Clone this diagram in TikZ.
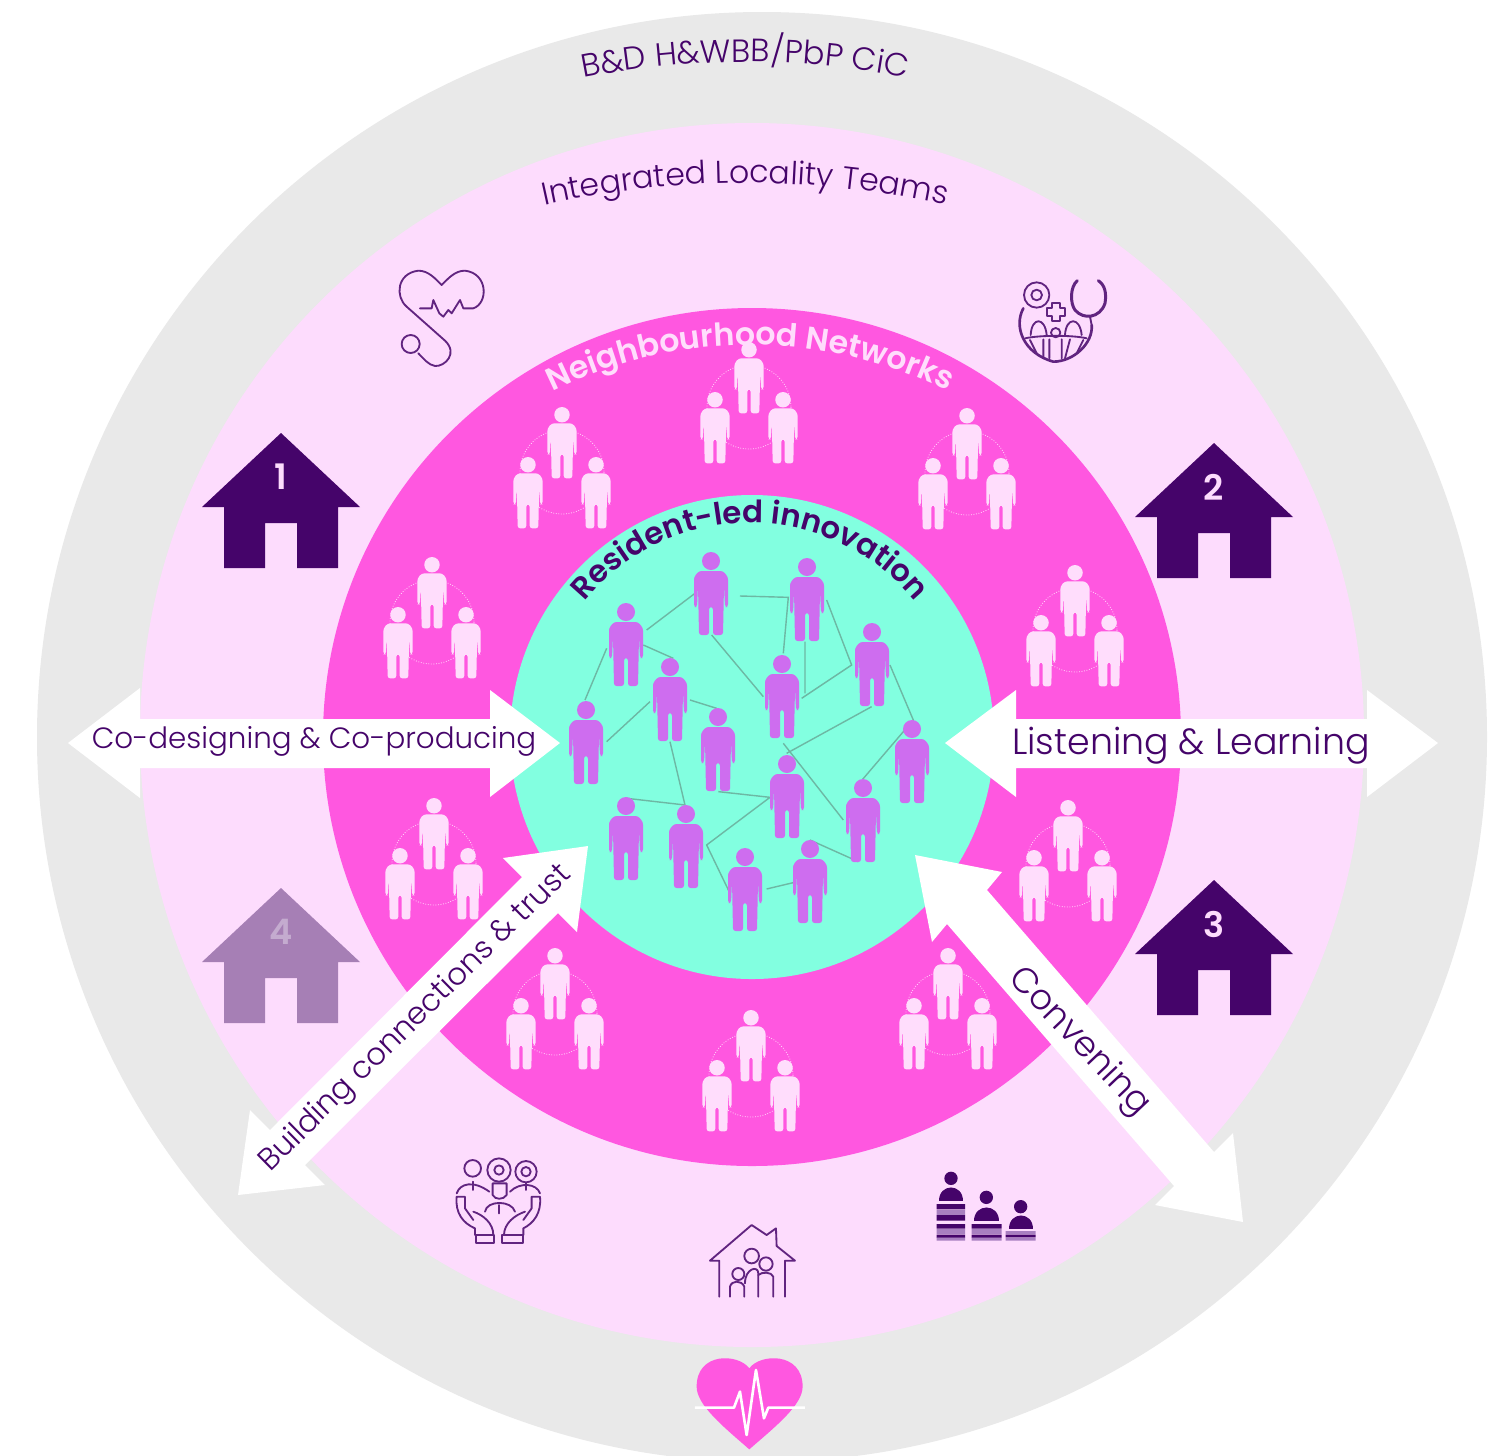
\documentclass[tikz,border=0pt]{standalone}
\usepackage{fontspec}
\setmainfont[BoldFont=Poppins SemiBold]{Poppins Light}
\usetikzlibrary{decorations.text}
\definecolor{ringgrey}{HTML}{E9E9E9}
\definecolor{ringpale}{HTML}{FDDCFD}
\definecolor{ringmag}{HTML}{FF57E0}
\definecolor{ringaqua}{HTML}{82FFE0}
\definecolor{fig}{HTML}{CE6DEF}
\definecolor{paleman}{HTML}{FFDDFC}
\definecolor{dark}{HTML}{45046A}
\definecolor{faded}{HTML}{A67FB5}
\definecolor{fadedtxt}{HTML}{C4ABCF}
\definecolor{stripe}{HTML}{A87FC0}
\definecolor{netline}{HTML}{6DB8A4}
\tikzset{
  x=0.02cm,y=-0.02cm,
  icon/.style={draw=dark!85!ringpale,line width=1.05pt,line cap=round,line join=round,fill=none},
  arrowwhite/.style={fill=white,draw=none},
  lbl/.style={text=dark,inner sep=0pt},
  zoomA/.style={shift={(380,250)},scale=0.3333},
  zoomB/.style={shift={(990,260)},scale=0.3333},
  zoomC/.style={shift={(430,1140)},scale=0.3333},
  zoomD/.style={shift={(910,1150)},scale=0.3333},
  zoomN/.style={shift={(500,490)},scale=0.3333},
}
% person: x, y of head top, scale, colour
\newcommand\pfig[4]{%
  \begin{scope}[shift={(#1,#2)},scale=#3]
    \fill[#4] (0,9) circle[radius=9];
    \fill[#4,rounded corners=1.5pt] (-12,19) -- (12,19) -- (17,25) -- (17,55) -- (14,55) -- (13,33) -- (12,83) -- (2,83) -- (2,55) -- (-2,55) -- (-2,83) -- (-12,83) -- (-13,33) -- (-14,55) -- (-17,55) -- (-17,25) -- cycle;
  \end{scope}}
% triad: x, y of the top figure's head top
\newcommand\triad[2]{%
  \begin{scope}[shift={(#1,#2)}]
    \draw[paleman,densely dotted,line width=0.45pt] (0,65) circle[radius=42];
    \pfig{0}{0}{0.86}{paleman}
    \pfig{-34}{50}{0.86}{paleman}
    \pfig{34}{50}{0.86}{paleman}
  \end{scope}}
% house: apex x, apex y, colour, digit, digit colour
\newcommand\house[5]{%
  \begin{scope}[shift={(#1,#2)}]
    \fill[#3] (0,0) -- (79,74) -- (57,74) -- (57,135) -- (16,135) -- (16,90) -- (-16,90) -- (-16,135) -- (-57,135) -- (-57,74) -- (-79,74) -- cycle;
    \node[text=#5,inner sep=0pt,font=\fontsize{20}{24}\selectfont\bfseries] (h#4) at (0,44) {#4};
  \end{scope}}
\begin{document}
\begin{tikzpicture}
\useasboundingbox (0,0) rectangle (1510,1455);
\clip (0,0) rectangle (1510,1455);
\fill[white] (0,0) rectangle (1510,1455);
\fill[ringgrey] (762,737) circle[radius=725];
\fill[ringpale] (752,735) circle[radius=612];
\fill[ringmag] (752,737) circle[radius=429];
\fill[ringaqua] (752,737) circle[radius=242];

% network lines
\begin{scope}[zoomN]
  \draw[netline,line width=0.8pt] (440,420)--(585,310) (720,318)--(865,322)--(850,490) (915,455)--(915,610) (635,435)--(790,620) (980,330)--(1055,525)--(905,625) (1170,525)--(1240,690)--(1088,868) (1115,650)--(860,790) (850,760)--(1030,990) (320,475)--(255,630) (430,465)--(520,505) (450,635)--(320,755) (570,630)--(650,655) (510,755)--(555,945)--(380,925) (655,905)--(810,922)--(620,1065)--(690,1210) (800,1197)--(880,1178) (930,1050)--(1075,1115);
\end{scope}
% residents
\foreach \px/\py in {711/552,807/558,872/623,782/655,626/603,670/658,718/708,586/701,912/720,787/755,863/779,626/797,686/805,745/848,810/840}
  {\pfig{\px}{\py}{1}{fig}}
% neighbourhood triads
\foreach \px/\py in {749/342,562/407,967/408,1075/565,432/557,434/798,1068/800,555/948,751/1010,948/948}
  {\triad{\px}{\py}}

% houses
\house{281}{433}{dark}{1}{ringpale}
\house{1214}{443}{dark}{2}{ringpale}
\house{1214}{880}{dark}{3}{ringpale}
\house{281}{888}{faded}{4}{fadedtxt}

% arrows
\fill[arrowwhite] (68,743)--(140,688)--(140,719)--(490,719)--(490,690)--(560,743)--(490,797)--(490,768)--(140,768)--(140,798)--cycle;
\fill[arrowwhite] (945,743)--(1016,690)--(1016,719)--(1367,719)--(1367,690)--(1438,743)--(1367,797)--(1367,768)--(1016,768)--(1016,797)--cycle;
\fill[arrowwhite] (588,846)--(577,932)--(558,913)--(305,1165)--(325,1185)--(238,1195)--(250,1110)--(270,1130)--(522,877)--(503,858)--cycle;
\fill[arrowwhite] (915,855)--(1002,872)--(987,890)--(1214,1152)--(1233,1133)--(1243,1222)--(1155,1205)--(1174,1186)--(947,924)--(932,942)--cycle;

% arrow labels
\node[lbl,font=\fontsize{16.7}{20}\selectfont] (codesign) at (314,741) {Co-designing \& Co-producing};
\node[lbl,font=\fontsize{20.7}{24}\selectfont] (listen) at (1191,746) {Listening \& Learning};
\node[lbl,font=\fontsize{17.5}{20}\selectfont,rotate=44.5] (build) at (416,1019) {Building connections \& trust};
\node[lbl,font=\fontsize{20}{24}\selectfont,rotate=-46.5] (conv) at (1079,1042) {Convening};

% curved labels
\path[decorate,decoration={text along path,text align=center,text={|\fontsize{18.3}{22}\selectfont\color{dark}|B{\&}D H{\&}WBB/PbP CiC}}]
  ({745+838*cos(-106)},{900+838*sin(-106)}) arc[start angle=-106,end angle=-74,radius=838];
\path[decorate,decoration={text along path,text align=center,text={|\fontsize{18}{22}\selectfont\color{dark}|Integrated Locality Teams}}]
  ({745+920*cos(-106)},{1103+920*sin(-106)}) arc[start angle=-106,end angle=-74,radius=920];
\path[decorate,decoration={text along path,text align=center,text={|\fontsize{18}{22}\selectfont\bfseries\color{paleman}|Neighbourhood Networks}}]
  ({750+445*cos(-130)},{790+445*sin(-130)}) arc[start angle=-130,end angle=-50,radius=445];
\path[decorate,decoration={text along path,text align=center,text={|\fontsize{17.5}{20}\selectfont\bfseries\color{dark}|Resident-led innovation}}]
  ({750+214*cos(-150)},{737+214*sin(-150)}) arc[start angle=-150,end angle=-30,radius=214];

% stethoscope-heart icon
\begin{scope}[zoomA]
  \draw[icon] (120,175) -- (155,175) -- (160,150) -- (178,190) -- (190,200) -- (205,180) -- (215,190) -- (240,150) -- (250,175) -- (280,175) .. controls (325,160) and (325,70) .. (255,62) .. controls (225,62) and (205,85) .. (185,105) .. controls (165,85) and (145,62) .. (115,62) .. controls (50,70) and (45,140) .. (80,170) -- (195,272) .. controls (235,310) and (195,350) .. (165,348) .. controls (145,345) and (130,325) .. (115,310);
  \draw[icon] (92,282) circle[radius=27];
\end{scope}

% medical team icon
\begin{scope}[zoomB]
  \draw[icon] (140,105) circle[radius=38] (140,105) circle[radius=16];
  \draw[icon] (185,128) -- (210,128) -- (210,143) -- (225,143) -- (225,168) -- (210,168) -- (210,183) -- (185,183) -- (185,168) -- (170,168) -- (170,143) -- (185,143) -- cycle;
  \draw[icon,line width=1.7pt] (262,62) .. controls (240,80) and (240,130) .. (255,150) .. controls (280,180) and (330,175) .. (345,130) .. controls (350,100) and (345,75) .. (325,62);
  \draw[icon] (300,170) -- (305,195);
  \draw[icon,line width=1.5pt] (100,145) .. controls (70,200) and (100,280) .. (190,305) .. controls (250,305) and (310,250) .. (305,195);
  \draw[icon] (122,225) .. controls (125,170) and (165,170) .. (170,225);
  \draw[icon] (225,225) .. controls (228,170) and (270,170) .. (275,225);
  \draw[icon] (197,218) circle[radius=14];
  \draw[icon] (105,235) .. controls (150,225) and (250,225) .. (290,235);
  \draw[icon] (160,238) -- (160,295) (178,238) -- (178,295) (215,238) -- (215,295) (240,238) -- (225,295) (120,240) -- (140,280) (280,240) -- (260,280);
\end{scope}

% hands and people icon
\begin{scope}[zoomC]
  \draw[icon] (128,85) circle[radius=25];
  \draw[icon] (207,90) circle[radius=35] (207,90) circle[radius=14];
  \draw[icon] (288,95) circle[radius=32] (288,95) circle[radius=14];
  \draw[icon] (80,160) .. controls (90,130) and (130,120) .. (178,155);
  \draw[icon] (240,155) .. controls (270,125) and (320,130) .. (330,160);
  \draw[icon] (128,125) -- (128,150) (288,130) -- (288,150);
  \draw[icon] (188,130) -- (188,165) .. controls (195,180) and (220,180) .. (230,165) -- (230,130) -- cycle;
  \draw[icon] (165,215) .. controls (170,180) and (245,180) .. (255,215);
  \draw[icon] (207,195) -- (207,220);
  \draw[icon] (80,170) -- (105,170) -- (105,205) -- (130,240) (80,170) .. controls (75,220) and (100,250) .. (135,265) -- (135,285);
  \draw[icon] (130,215) .. controls (160,225) and (190,250) .. (190,285);
  \draw[icon] (330,170) -- (305,170) -- (305,205) -- (280,240) (330,170) .. controls (335,220) and (310,250) .. (280,265) -- (280,285);
  \draw[icon] (285,215) .. controls (255,225) and (222,250) .. (222,285);
  \draw[icon] (137,285) rectangle (192,308) (217,285) rectangle (278,308);
\end{scope}

% family house icon
\begin{scope}[zoomC]
  \draw[icon] (868,470) -- (868,362) -- (840,362) -- (965,255) -- (1010,285) -- (1038,265) -- (1040,318) -- (1095,362) -- (1065,362) -- (1065,470);
  \draw[icon] (965,348) circle[radius=22];
  \draw[icon] (1008,372) circle[radius=20];
  \draw[icon] (925,402) circle[radius=18];
  \draw[icon] (900,470) -- (900,440) .. controls (905,420) and (935,420) .. (943,440) -- (943,470);
  \draw[icon] (945,430) .. controls (945,385) and (985,375) .. (985,400) -- (985,470);
  \draw[icon] (985,405) .. controls (995,395) and (1025,395) .. (1030,410) -- (1030,470);
\end{scope}

% stacked people icon
\begin{scope}[zoomD]
  \fill[dark] (123,85) circle[radius=20] (229,142) circle[radius=20] (332,170) circle[radius=20];
  \fill[dark] (88,152) .. controls (88,98) and (158,98) .. (158,152) -- cycle;
  \fill[dark] (192,212) .. controls (192,158) and (266,158) .. (266,212) -- cycle;
  \fill[dark] (296,236) .. controls (296,183) and (368,183) .. (368,236) -- cycle;
  \fill[stripe] (80,180) rectangle (165,195) (80,237) rectangle (165,252) (185,237) rectangle (275,252) (287,243) rectangle (377,253) (80,262) rectangle (165,272) (185,262) rectangle (275,272) (287,263) rectangle (377,272);
  \fill[dark] (80,162) rectangle (165,178) (80,195) rectangle (165,212) (80,222) rectangle (165,236) (80,254) rectangle (165,263) (185,222) rectangle (275,236) (185,254) rectangle (275,263) (287,254) rectangle (377,262);
\end{scope}

% pulse heart icon
\begin{scope}[zoomC]
  \fill[ringmag] (958,685) .. controls (925,640) and (800,635) .. (800,740) .. controls (800,795) and (880,860) .. (958,928) .. controls (1036,860) and (1118,795) .. (1118,740) .. controls (1118,635) and (990,640) .. (958,685) -- cycle;
  \draw[white,line width=1.5pt,line join=round] (795,803) -- (912,803) -- (930,755) -- (950,885) -- (978,690) -- (1002,835) -- (1015,803) -- (1125,803);
\end{scope}
\end{tikzpicture}
\end{document}
